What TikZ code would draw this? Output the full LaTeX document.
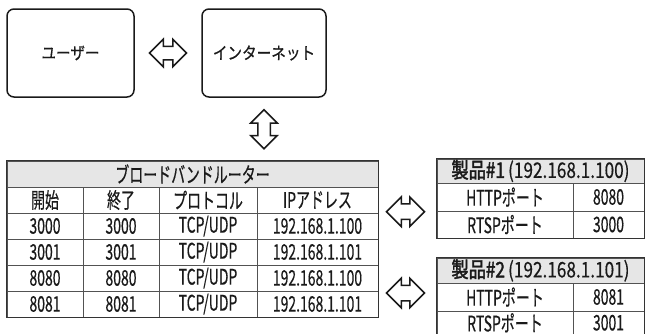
\documentclass[tikz,border=0pt]{standalone}
\usepackage{fontspec}
\setmainfont{Noto Sans CJK JP}[FakeStretch=0.65,FakeBold=0.4]
\newfontfamily\boxfont{Noto Sans CJK JP}[FakeStretch=0.86,FakeBold=0.5]
\newfontfamily\hdfont{Noto Sans CJK JP}[FakeStretch=0.8,FakeBold=0.4]
\newfontfamily\hdbold{Noto Sans CJK JP}[FakeStretch=0.8,FakeBold=1.8]
\usetikzlibrary{shapes.arrows,calc}
\definecolor{ln}{HTML}{333333}
\definecolor{hd}{HTML}{E6E6E6}
\definecolor{tx}{HTML}{1A1A1A}
\newcommand{\tcell}[7]{\node[#1, minimum width={(#5-#3)*1pt}, minimum height={(#6-#4)*1pt}] (#2) at ({(#3+#5)/2},{(#4+#6)/2}) {#7};}
\tikzset{
  box/.style={draw=tx, line width=1.5pt, rounded corners=7pt, text=tx, font=\boxfont\fontsize{17}{17}\selectfont},
  cell/.style={draw=ln!85, line width=0.7pt, inner sep=0pt, text=tx, font=\fontsize{21.5}{21.5}\selectfont},
  hcell/.style={cell, fill=hd},
  outer/.style={draw=ln, line width=1.4pt},
  darrow/.style={double arrow, draw=tx, line width=1.5pt, fill=white, inner xsep=0pt, inner ysep=6pt,
    double arrow head extend=7pt, minimum height=37pt}
}
\begin{document}
\begin{tikzpicture}[x=1pt,y=-1pt]
\useasboundingbox (0,0) rectangle (646,333);
% top boxes
\node[box, minimum width=127pt, minimum height=88pt] (user) at (70.5,53) {ユーザー};
\node[box, minimum width=124pt, minimum height=88pt] (inet) at (264,53) {インターネット};
\node[darrow] (a1) at ($(user.east)!0.5!(inet.west)$) {};
\node[darrow, rotate=90, minimum height=39pt, inner ysep=5.5pt] (a2) at ($(inet.south)+(0,31.5)$) {};
% router table
\tcell{hcell}{rh}{7}{161}{378}{187}{ブロードバンドルーター}
\tcell{cell}{c1}{7}{187}{83}{213}{開始}
\tcell{cell}{c2}{83}{187}{159}{213}{終了}
\tcell{cell}{c3}{159}{187}{257}{213}{プロトコル}
\tcell{cell}{c4}{257}{187}{378}{213}{IPアドレス}
\tcell{cell}{r11}{7}{213}{83}{239}{3000}
\tcell{cell}{r12}{83}{213}{159}{239}{3000}
\tcell{cell}{r13}{159}{213}{257}{239}{TCP/UDP}
\tcell{cell}{r14}{257}{213}{378}{239}{192.168.1.100}
\tcell{cell}{r21}{7}{239}{83}{265}{3001}
\tcell{cell}{r22}{83}{239}{159}{265}{3001}
\tcell{cell}{r23}{159}{239}{257}{265}{TCP/UDP}
\tcell{cell}{r24}{257}{239}{378}{265}{192.168.1.101}
\tcell{cell}{r31}{7}{265}{83}{291}{8080}
\tcell{cell}{r32}{83}{265}{159}{291}{8080}
\tcell{cell}{r33}{159}{265}{257}{291}{TCP/UDP}
\tcell{cell}{r34}{257}{265}{378}{291}{192.168.1.100}
\tcell{cell}{r41}{7}{291}{83}{317}{8081}
\tcell{cell}{r42}{83}{291}{159}{317}{8081}
\tcell{cell}{r43}{159}{291}{257}{317}{TCP/UDP}
\tcell{cell}{r44}{257}{291}{378}{317}{192.168.1.101}
\draw[outer] (rh.north west) rectangle (r44.south east);
% arrows to products
\node[darrow, minimum height=38pt, inner ysep=7pt] (a3) at (405.5,211.7) {};
\node[darrow, minimum height=38pt, inner ysep=7pt] (a4) at (405.5,293) {};
% product 1
\tcell{hcell}{p1h}{437}{159}{644}{183}{{\hdbold 製品\#1} {\hdfont (192.168.1.100)}}
\tcell{cell}{p1a}{437}{183}{573}{211}{HTTPポート}
\tcell{cell}{p1b}{573}{183}{644}{211}{8080}
\tcell{cell}{p1c}{437}{211}{573}{238}{RTSPポート}
\tcell{cell}{p1d}{573}{211}{644}{238}{3000}
\draw[outer] (p1h.north west) rectangle (p1d.south east);
% product 2
\tcell{hcell}{p2h}{437}{258}{644}{283}{{\hdbold 製品\#2} {\hdfont (192.168.1.101)}}
\tcell{cell}{p2a}{437}{283}{573}{311}{HTTPポート}
\tcell{cell}{p2b}{573}{283}{644}{311}{8081}
\tcell{cell}{p2c}{437}{311}{573}{334.5}{RTSPポート}
\tcell{cell}{p2d}{573}{311}{644}{334.5}{3001}
\draw[outer] (p2h.north west) rectangle (p2d.south east);
\end{tikzpicture}
\end{document}
